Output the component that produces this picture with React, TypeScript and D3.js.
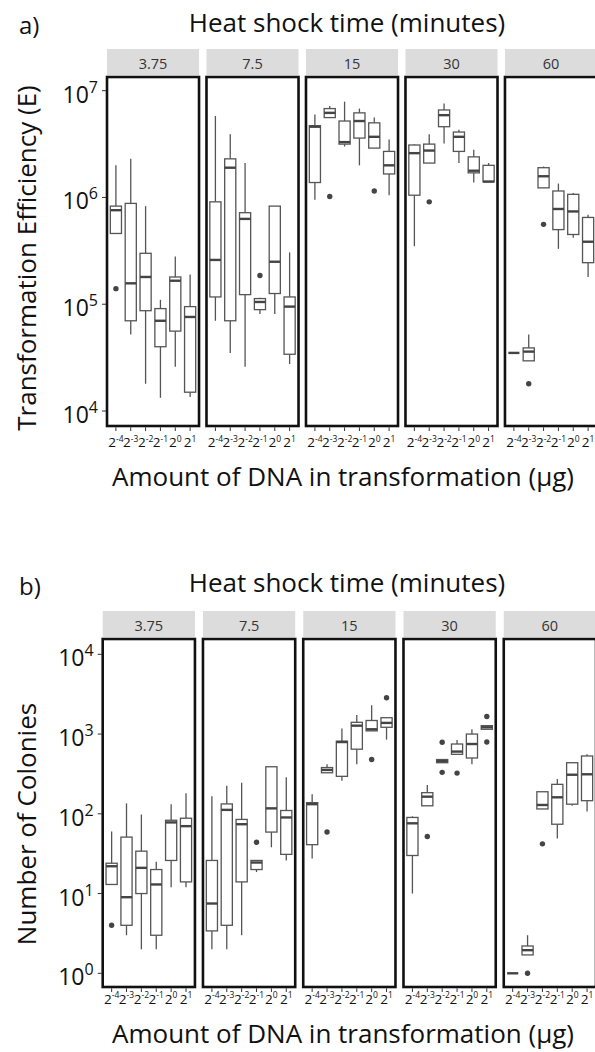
import React from "react";
import * as d3 from "d3";

// ---------- DATA ----------
const doseExponents = ["-4", "-3", "-2", "-1", "0", "1"];
const heatShockTimes = ["3.75", "7.5", "15", "30", "60"];

// Transformation efficiency: [min, q1, median, q3, max] per DNA amount
const eff375 = [[4.6e5, 4.6e5, 7.6e5, 8.3e5, 2.0e6], [5.2e4, 7.0e4, 1.57e5, 8.8e5, 2.3e6], [1.8e4, 8.7e4, 1.8e5, 3.0e5, 8.3e5], [1.33e4, 4.0e4, 7.0e4, 9.1e4, 1.1e5], [2.6e4, 5.6e4, 1.66e5, 1.8e5, 2.8e5], [1.35e4, 1.5e4, 7.6e4, 9.5e4, 1.9e5]];
const eff75 = [[7.0e4, 1.17e5, 2.6e5, 9.1e5, 5.8e6], [3.5e4, 7.0e4, 1.9e6, 2.3e6, 3.9e6], [2.6e4, 1.23e5, 6.3e5, 7.2e5, 2.1e6], [8.1e4, 8.9e4, 1.05e5, 1.13e5, 1.15e5], [8.1e4, 1.26e5, 2.5e5, 8.3e5, 8.3e5], [2.75e4, 3.4e4, 9.5e4, 1.17e5, 3.06e5]];
const eff15 = [[9.5e5, 1.38e6, 4.6e6, 4.7e6, 6.0e6], [5.6e6, 5.6e6, 6.2e6, 6.8e6, 7.2e6], [3.0e6, 3.16e6, 3.3e6, 5.2e6, 7.9e6], [2.0e6, 3.6e6, 5.2e6, 6.2e6, 6.8e6], [2.9e6, 2.9e6, 3.7e6, 5.0e6, 5.6e6], [1.05e6, 1.66e6, 2.0e6, 2.7e6, 3.5e6]];
const eff30 = [[3.5e5, 1.05e6, 2.6e6, 3.1e6, 3.16e6], [2.1e6, 2.1e6, 2.75e6, 3.16e6, 3.9e6], [3.2e6, 4.6e6, 5.9e6, 6.6e6, 7.6e6], [2.1e6, 2.7e6, 3.7e6, 4.1e6, 4.3e6], [1.38e6, 1.7e6, 1.78e6, 2.4e6, 2.8e6], [1.4e6, 1.4e6, 1.41e6, 2.0e6, 2.1e6]];
const eff60 = [[3.5e4, 3.5e4, 3.5e4, 3.5e4, 3.5e4], [2.95e4, 2.95e4, 3.6e4, 3.9e4, 5.2e4], [1.23e6, 1.23e6, 1.58e6, 1.9e6, 1.95e6], [3.3e5, 5.0e5, 7.8e5, 1.15e6, 1.35e6], [4.2e5, 4.5e5, 7.4e5, 1.07e6, 1.1e6], [1.8e5, 2.45e5, 3.85e5, 6.5e5, 6.9e5]];
// outliers: [dose index, value]
const effOut375 = [[0, 1.4e5]];
const effOut75 = [[3, 1.86e5]];
const effOut15 = [[1, 1.02e6], [4, 1.15e6]];
const effOut30 = [[1, 9.1e5]];
const effOut60 = [[1, 1.8e4], [2, 5.6e5]];

// Number of colonies
const col375 = [[13, 13, 22, 24, 60], [3, 4, 9, 51, 135], [2, 10, 21, 34, 98], [2, 3, 13, 20, 25], [12, 26, 78, 83, 132], [12, 14, 70, 88, 181]];
const col75 = [[2, 3.4, 7.5, 26, 166], [2, 4, 112, 133, 224], [3, 14, 74, 85, 245], [18.6, 20, 24.5, 26, 26], [38, 59, 117, 389, 389], [26, 31, 90, 110, 288]];
const col15 = [[27.5, 41, 132, 138, 176], [327, 327, 355, 380, 417], [260, 295, 794, 813, 1175], [417, 646, 1274, 1403, 1738], [1096, 1096, 1148, 1479, 2291], [851, 1216, 1380, 1603, 1603]];
const col30 = [[10, 30, 76, 90, 93], [126, 126, 164, 184, 229], [437, 437, 457, 479, 479], [557, 557, 603, 750, 841], [417, 501, 750, 1000, 1148], [1148, 1148, 1216, 1274, 1274]];
const col60 = [[1, 1, 1, 1, 1], [1.7, 1.7, 1.95, 2.2, 3], [115, 115, 129, 189, 189], [49, 74, 161, 234, 273], [126, 132, 309, 437, 437], [107, 146, 313, 531, 557]];
const colOut375 = [[0, 4]];
const colOut75 = [[3, 44]];
const colOut15 = [[1, 59], [4, 479], [5, 2858]];
const colOut30 = [[1, 52], [2, 789], [2, 331], [3, 324], [5, 1660], [5, 794]];
const colOut60 = [[1, 1], [2, 42]];

const effTicks = [1e4, 1e5, 1e6, 1e7];
const colTicks = [1, 10, 100, 1000, 10000];

const FONT = "'Open Sans', 'DejaVu Sans', sans-serif";

type Cfg = {
  tag: string;
  yTitle: string;
  stats: number[][][];
  outs: number[][][];
  ticks: number[];
  yScale: d3.ScaleLogarithmic<number, number>;
  facetRange: [number, number];
  facetPad: number;
  stripTop: number;
  boxTop: number;
  boxBottom: number;
  tagY: number;
  titleY: number;
  xLabelY: number;
  xTitleY: number;
  yTitleX: number;
  yTitleMid: number;
};

function Panel({ c }: { c: Cfg }) {
  const fx = d3.scaleBand<string>().domain(heatShockTimes).range(c.facetRange).paddingInner(c.facetPad);
  const fw = fx.bandwidth();
  const y = c.yScale;
  const lx = c.facetRange[0];
  return (
    <g>
      <text x={19} y={c.tagY} fontFamily={FONT} fontSize={24} fill="#111">{c.tag}</text>
      <text x={347} y={c.titleY} textAnchor="middle" fontFamily={FONT} fontSize={26} fill="#111">Heat shock time (minutes)</text>
      <text transform={`translate(${c.yTitleX},${c.yTitleMid}) rotate(-90)`} textAnchor="middle" fontFamily={FONT} fontSize={26} fill="#111">{c.yTitle}</text>
      <text x={343} y={c.xTitleY} textAnchor="middle" fontFamily={FONT} fontSize={26} fill="#111">Amount of DNA in transformation (μg)</text>
      {c.ticks.map((t) => (
        <g key={t}>
          <line x1={lx - 5} x2={lx - 1} y1={y(t)} y2={y(t)} stroke="#333" strokeWidth={1} />
          <text x={lx - 9} y={y(t) + 12} textAnchor="end" fontFamily={FONT} fill="#111">
            <tspan fontSize={23}>10</tspan>
            <tspan fontSize={16} dy={-10}>{Math.round(Math.log10(t))}</tspan>
          </text>
        </g>
      ))}
      {heatShockTimes.map((time, fi) => {
        const x0 = fx(time)!;
        const xs = d3.scalePoint<string>().domain(doseExponents).range([x0, x0 + fw]).padding(0.6);
        const bw = xs.step() * 0.75;
        return (
          <g key={time}>
            <rect x={x0} y={c.stripTop} width={fw} height={26} fill="#dcdcdc" />
            <text x={x0 + fw / 2} y={c.stripTop + 20} textAnchor="middle" fontFamily={FONT} fontSize={14.5} fill="#333">{time}</text>
            <rect x={x0} y={c.boxTop} width={fw} height={c.boxBottom - c.boxTop} fill="white" />
            {c.stats[fi].map((s, di) => {
              const cx = xs(doseExponents[di])!;
              const [mn, q1, md, q3, mx] = s;
              return (
                <g key={di}>
                  <line x1={cx} x2={cx} y1={y(mx)} y2={y(q3)} stroke="#555" strokeWidth={1.3} />
                  <line x1={cx} x2={cx} y1={y(q1)} y2={y(mn)} stroke="#555" strokeWidth={1.3} />
                  <rect x={cx - bw / 2} y={y(q3)} width={bw} height={Math.max(0, y(q1) - y(q3))} fill="white" stroke="#555" strokeWidth={1.3} />
                  <line x1={cx - bw / 2} x2={cx + bw / 2} y1={y(md)} y2={y(md)} stroke="#444" strokeWidth={2.4} />
                </g>
              );
            })}
            {c.outs[fi].map(([di, v], k) => (
              <circle key={k} cx={xs(doseExponents[di])!} cy={y(v)} r={2.7} fill="#444" />
            ))}
            <rect x={x0} y={c.boxTop} width={fw} height={c.boxBottom - c.boxTop} fill="none" stroke="#111" strokeWidth={2.6} />
            {doseExponents.map((e) => (
              <g key={e}>
                <line x1={xs(e)!} x2={xs(e)!} y1={c.boxBottom + 1.3} y2={c.boxBottom + 5} stroke="#333" strokeWidth={1} />
                <text x={xs(e)!} y={c.xLabelY} textAnchor="middle" fontFamily={FONT} fill="#111">
                  <tspan fontSize={13.5}>2</tspan>
                  <tspan fontSize={8.5} dy={-5.5}>{e}</tspan>
                </text>
              </g>
            ))}
          </g>
        );
      })}
    </g>
  );
}

export default function App() {
  const cfgA: Cfg = {
    tag: "a)",
    yTitle: "Transformation Efficiency (E)",
    stats: [eff375, eff75, eff15, eff30, eff60],
    outs: [effOut375, effOut75, effOut15, effOut30, effOut60],
    ticks: effTicks,
    yScale: d3.scaleLog().domain([1e4, 1e7]).range([411, 90.7]),
    facetRange: [107, 597],
    facetPad: 0.075,
    stripTop: 49,
    boxTop: 77,
    boxBottom: 426,
    tagY: 34,
    titleY: 32,
    xLabelY: 447,
    xTitleY: 486,
    yTitleX: 36,
    yTitleMid: 258,
  };
  const cfgB: Cfg = {
    tag: "b)",
    yTitle: "Number of Colonies",
    stats: [col375, col75, col15, col30, col60],
    outs: [colOut375, colOut75, colOut15, colOut30, colOut60],
    ticks: colTicks,
    yScale: d3.scaleLog().domain([1, 1e4]).range([973.3, 654.3]),
    facetRange: [102.7, 596],
    facetPad: 0.08,
    stripTop: 611,
    boxTop: 639,
    boxBottom: 987,
    tagY: 595,
    titleY: 592,
    xLabelY: 1003.5,
    xTitleY: 1043,
    yTitleX: 36,
    yTitleMid: 824,
  };
  return (
    <svg width={595} height={1052} style={{ position: "absolute", left: 0, top: 0, background: "white" }}>
      <rect width={595} height={1052} fill="white" />
      <Panel c={cfgA} />
      <Panel c={cfgB} />
    </svg>
  );
}
